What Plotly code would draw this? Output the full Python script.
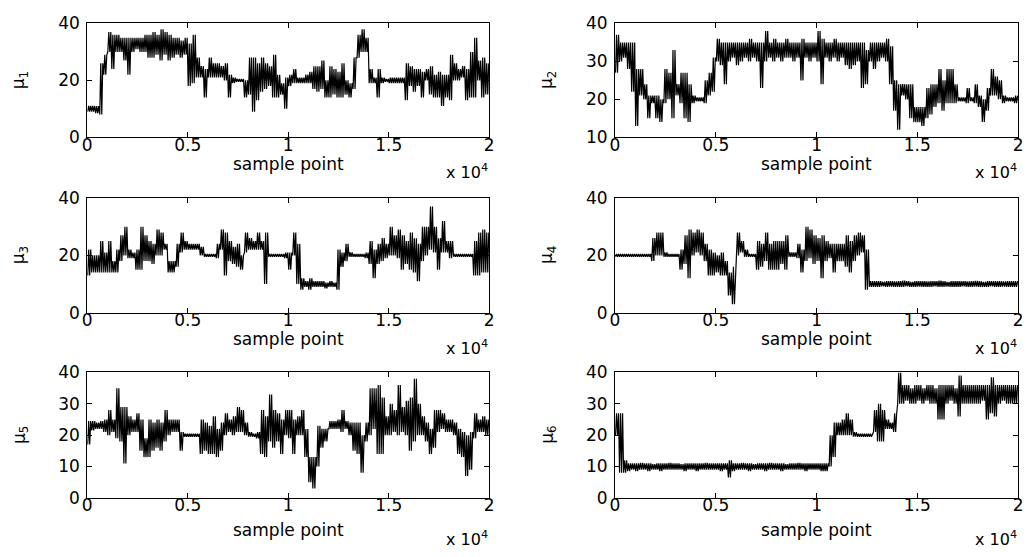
import plotly.graph_objects as go

# ---- data: per 200-sample bin, lower and upper envelope of each MCMC trace ----
BIN = 200
N_BINS = 100

mu1_lo = [9, 9, 8.5, 8, 22, 30, 24, 30, 30, 27, 22, 30, 31, 30, 30, 28, 28, 29, 27, 29,
          27, 28, 29, 28, 29, 18, 19, 21, 21, 14, 21, 21, 21, 21, 20, 14, 19, 19.5, 19.5, 14,
          15, 9, 13, 16, 17, 18, 14, 14, 15, 10, 18, 19, 19, 19, 19, 19, 17, 16, 17, 14,
          14, 15, 14, 14, 15, 14, 17, 28, 30, 30, 19, 19, 14, 19, 19.5, 19, 19, 19, 19, 13,
          18, 16, 18, 14, 20, 15, 14, 14, 11, 14, 13, 20, 20, 21, 13, 14, 14, 20, 14, 15]
mu1_hi = [11, 11, 11, 26, 29, 37, 36, 36, 35, 35, 35, 35, 35, 35, 36, 36, 37, 36, 38, 37,
          36, 35, 35, 34, 35, 33, 36, 28, 25, 24, 28, 26, 26, 25, 26, 22, 21, 20.5, 20.5, 20,
          28, 28, 26, 28, 26, 25, 29, 22, 19, 21, 22, 24, 21, 21, 22, 23, 25, 25, 27, 20,
          25, 24, 23, 26, 20, 19, 28, 36, 38, 35, 24, 21, 24, 21, 20.5, 21, 21, 21, 21, 26,
          25, 24, 24, 23, 24, 25, 22, 23, 22, 22, 29, 26, 24, 25, 24, 30, 35, 27, 28, 26]

mu2_lo = [27, 30, 31, 28, 22, 13, 21, 20, 15, 19, 15, 14, 19, 20, 15, 21, 19, 15, 14, 19,
          19.5, 19.5, 19, 21, 22, 30, 29, 24, 30, 31, 29, 30, 31, 30, 31, 30, 23, 30, 31, 30,
          31, 30, 31, 31, 30, 31, 25, 31, 30, 31, 30, 24, 31, 30, 31, 30, 31, 29, 28, 29,
          30, 23, 24, 30, 28, 30, 31, 30, 24, 17, 12, 21, 20, 15, 14, 14, 13, 15, 16, 18,
          19, 17, 19, 19, 19, 19.5, 19.5, 19, 19.5, 19, 18, 14, 17, 21, 21, 20, 19, 19.5, 19.5, 19]
mu2_hi = [37, 35, 35, 35, 35, 28, 28, 24, 21, 21, 21, 20, 28, 27, 33, 24, 27, 27, 24, 21,
          20.5, 20.5, 25, 27, 31, 36, 35, 35, 35, 35, 35, 35, 35, 36, 35, 35, 35, 38, 35, 36,
          35, 35, 36, 35, 35, 35, 36, 35, 35, 35, 38, 36, 35, 35, 36, 35, 35, 35, 35, 35,
          35, 35, 33, 35, 35, 35, 35, 36, 34, 25, 24, 24, 24, 24, 18, 18, 18, 23, 24, 24,
          28, 25, 28, 28, 24, 20.5, 20.5, 23, 20.5, 24, 21, 20, 23, 28, 26, 25, 21, 20.5, 20.5, 21]

mu3_lo = [13, 14, 14, 14, 14, 14, 14, 14, 18, 20, 19, 19, 15, 15, 18, 18, 17, 20, 20, 22,
          14, 14, 16, 21, 22, 22, 22, 22, 20, 19.5, 19.5, 19.5, 19, 22, 13, 18, 17, 16, 15, 21,
          22, 22, 22, 22, 10, 19.5, 19.5, 19.5, 19.5, 19, 15, 20, 10, 8, 9, 8, 9, 9, 9, 8.5,
          9, 9, 8, 16, 18, 19.5, 19.5, 19.5, 19.5, 19, 17, 12, 17, 18, 19, 20, 20, 19, 15, 17,
          15, 14, 11, 18, 20, 22, 21, 15, 21, 21, 19, 19.5, 19.5, 19.5, 19.5, 19.5, 13, 13, 14, 14]
mu3_hi = [22, 20, 20, 25, 21, 25, 18, 22, 27, 30, 22, 21, 22, 30, 27, 25, 24, 29, 28, 24,
          18, 18, 24, 28, 25, 24, 24, 24, 23, 20.5, 20.5, 20.5, 24, 29, 28, 25, 23, 24, 20, 28,
          26, 25, 28, 25, 28, 20.5, 20.5, 20.5, 20.5, 21, 21, 28, 24, 12, 11, 12, 11, 11, 11, 10.5,
          11, 10.5, 22, 21, 24, 21, 20.5, 20.5, 20.5, 21, 25, 22, 24, 26, 24, 30, 27, 29, 27, 25,
          28, 26, 24, 30, 30, 37, 30, 26, 32, 25, 25, 20.5, 20.5, 20.5, 20.5, 20.5, 25, 28, 29, 28]

mu4_lo = [19.5, 19.5, 19.5, 19.5, 19.5, 19.5, 19.5, 19.5, 19.5, 18, 20, 20, 19.5, 19.5, 19.5,
          19.5, 15, 17, 12, 20, 21, 20, 18, 13, 13, 14, 13, 13, 6, 3, 20, 21, 19.5, 19.5, 19.5,
          15, 16, 18, 15, 15, 15, 17, 15, 19.5, 19.5, 19, 14, 18, 19, 17, 18, 12, 18, 19, 14,
          18, 18, 16, 14, 18, 20, 21, 8, 9, 9, 9, 9.2, 9, 9.1, 9, 9, 9, 9.2, 9, 9,
          9.1, 9, 9, 9, 9.2, 9, 9, 9.1, 9, 9, 9, 9.2, 9, 9, 9.1, 9, 9, 9, 9.2, 9,
          9, 9.1, 9, 9, 9]
mu4_hi = [20.5, 20.5, 20.5, 20.5, 20.5, 20.5, 20.5, 20.5, 20.5, 26, 28, 28, 21, 20.5, 20.5,
          20.5, 22, 27, 29, 28, 29, 28, 24, 22, 21, 20, 21, 18, 14, 16, 28, 25, 22, 20.5, 20.5,
          25, 24, 28, 24, 25, 25, 25, 27, 21, 21, 24, 22, 30, 29, 27, 26, 27, 25, 24, 24,
          24, 24, 27, 25, 27, 28, 27, 22, 11, 11, 11, 10.8, 11, 11, 10.9, 11, 11.2, 11, 10.8, 11,
          11, 11, 10.9, 11, 11, 11.2, 11, 10.8, 11, 11, 11, 11, 10.9, 11, 11.1, 11, 10.8, 11, 11, 11,
          11, 10.9, 11, 11, 11]

mu5_lo = [17, 21.5, 22, 22, 21, 20, 21, 19, 18, 11, 20, 21, 21, 15, 13, 13, 15, 16, 15, 18,
          20, 21, 21, 15, 19.5, 19.5, 19.5, 19.5, 14, 15, 14, 14, 13, 15, 20, 21, 20, 21, 21, 20,
          19.5, 19.5, 19, 14, 13, 18, 16, 18, 14, 20, 19, 14, 20, 20, 13, 5, 3, 10, 16, 18,
          22, 22, 22, 21, 22, 20, 15, 14, 8, 18, 20, 22, 14, 14, 20, 20, 21, 20, 21, 20,
          15, 18, 20, 20, 18, 14, 16, 21, 22, 21, 21, 20, 14, 13, 7, 9, 19, 21, 21, 20]
mu5_hi = [24.5, 24.5, 24, 24.5, 25, 28, 25, 35, 29, 29, 26, 25, 27, 25, 19, 25, 24, 25, 24, 28,
          25, 25, 25, 21, 20.5, 20.5, 20.5, 20.5, 25, 24, 23, 26, 22, 24, 27, 25, 26, 29, 28, 24,
          21, 20.5, 21, 28, 26, 33, 28, 27, 25, 28, 28, 25, 26, 28, 22, 13, 13, 23, 22, 22,
          24.5, 24.5, 25, 28, 24.5, 24, 24, 24, 20, 24, 35, 35, 36, 32, 26, 30, 28, 36, 29, 31,
          32, 38, 30, 26, 24, 22, 28, 28, 27, 25, 25, 24, 22, 21, 20, 21, 27, 25, 26, 25]

mu6_lo = [20, 8, 8, 8.5, 9, 8.5, 9, 9, 8.5, 9, 9, 8.5, 9, 9, 9, 9, 9, 8.5, 9, 9,
          8.5, 9, 9, 9, 9, 9, 8.5, 9, 6.5, 8.5, 9, 9, 9, 8.5, 9, 9, 9, 8.5, 9, 9,
          9, 8.5, 9, 9, 9, 9, 9, 8.5, 9, 9, 9, 8.5, 8.5, 10, 13, 20, 20, 20, 20, 19.5,
          19.5, 19.5, 19.5, 19.5, 21, 18, 18, 22, 22, 21, 30, 30, 31, 30, 30, 31, 30, 31, 30, 30,
          25, 25, 30, 31, 30, 26, 30, 30, 30, 30, 30, 31, 25, 27, 26, 30, 31, 30, 30, 30]
mu6_hi = [27, 27, 12, 11, 11, 11, 11.2, 11, 11, 10.8, 11, 11, 11, 11.2, 11, 11, 10.8, 11, 11, 11,
          11, 11, 11.2, 11, 11, 11, 11, 11, 12, 11, 11, 11.2, 11, 11, 10.8, 11, 11, 11, 11.2, 11,
          11, 11, 10.8, 11, 11, 11.2, 11, 11, 11, 11, 11, 11, 11, 20, 24, 24, 25, 27, 25, 21,
          20.5, 20.5, 20.5, 20.5, 28, 30, 28, 25, 24, 27, 40, 36, 36, 35, 36, 36, 35, 36, 36, 35,
          36, 36, 36, 36, 35, 39, 36, 36, 36, 36, 36, 36, 36, 38.5, 36, 36, 36, 36, 36, 36]

y_labels = ["μ<sub>1</sub>", "μ<sub>2</sub>", "μ<sub>3</sub>",
            "μ<sub>4</sub>", "μ<sub>5</sub>", "μ<sub>6</sub>"]
y_ranges = [[0, 40], [10, 40], [0, 40], [0, 40], [0, 40], [0, 40]]
y_ticks = [[0, 20, 40], [10, 20, 30, 40], [0, 20, 40], [0, 20, 40],
           [0, 10, 20, 30, 40], [0, 10, 20, 30, 40]]
x_tickvals = [0, 5000, 10000, 15000, 20000]
x_ticktext = ["0", "0.5", "1", "1.5", "2"]
x_title = "sample point"
x_exponent = "x 10<sup>4</sup>"

series = [(mu1_lo, mu1_hi), (mu2_lo, mu2_hi), (mu3_lo, mu3_hi),
          (mu4_lo, mu4_hi), (mu5_lo, mu5_hi), (mu6_lo, mu6_hi)]

# ---- layout geometry (pixels) ----
W, H = 1032, 557
cols = [(83, 489), (616, 1023)]
rows = [(14, 132), (195, 314), (376, 506)]
title_y = [160, 341, 539]
exp_y = [167, 350, 548]
ylab_x = [15, 548]

FONT = "DejaVu Sans"
FS = 17

# each bin's envelope is traced as a dense up/down sweep (4 sweeps per bin)
SUB = [25, 75, 125, 175]

fig = go.Figure()
annotations = []
layout = dict(width=W, height=H, margin=dict(l=0, r=0, t=0, b=0),
              paper_bgcolor="white", plot_bgcolor="white", showlegend=False,
              font=dict(family=FONT, size=FS, color="black"))

for k, (lo, hi) in enumerate(series):
    r, c = divmod(k, 2)
    xs, ys = [], []
    for i in range(N_BINS):
        for j, off in enumerate(SUB):
            xs.append(BIN * i + off)
            ys.append(lo[i] if j % 2 == 0 else hi[i])
    ax = "" if k == 0 else str(k + 1)
    fig.add_trace(go.Scatter(x=xs, y=ys, mode="lines", xaxis="x" + ax, yaxis="y" + ax,
                             line=dict(color="black", width=1.2), hoverinfo="skip"))
    x0, x1 = cols[c]
    y0, y1 = rows[r]
    common = dict(showgrid=False, zeroline=False, showline=True, linecolor="black",
                  linewidth=1, mirror="ticks", ticks="inside", ticklen=5,
                  tickcolor="black", tickwidth=1,
                  tickfont=dict(family=FONT, size=FS, color="black"))
    layout["xaxis" + ax] = dict(common, domain=[x0 / W, x1 / W], range=[0, 20000],
                                tickvals=x_tickvals, ticktext=x_ticktext,
                                ticklabelstandoff=-8, anchor="y" + ax)
    layout["yaxis" + ax] = dict(common, domain=[1 - y1 / H, 1 - y0 / H], range=y_ranges[k],
                                tickvals=y_ticks[k], ticklabelstandoff=3, anchor="x" + ax)
    annotations.append(dict(text=x_title, x=(x0 + x1) / 2 / W, y=1 - title_y[r] / H,
                            xref="paper", yref="paper", showarrow=False,
                            xanchor="center", yanchor="middle",
                            font=dict(family=FONT, size=FS, color="black")))
    annotations.append(dict(text=x_exponent, x=(x1 + 1) / W, y=1 - exp_y[r] / H,
                            xref="paper", yref="paper", showarrow=False,
                            xanchor="right", yanchor="middle",
                            font=dict(family=FONT, size=FS - 1, color="black")))
    annotations.append(dict(text=y_labels[k], x=ylab_x[c] / W, y=1 - (y0 + y1) / 2 / H,
                            xref="paper", yref="paper", showarrow=False, textangle=-90,
                            xanchor="center", yanchor="middle",
                            font=dict(family=FONT, size=FS, color="black")))

layout["annotations"] = annotations
fig.update_layout(**layout)
fig.write_html("out.html")
